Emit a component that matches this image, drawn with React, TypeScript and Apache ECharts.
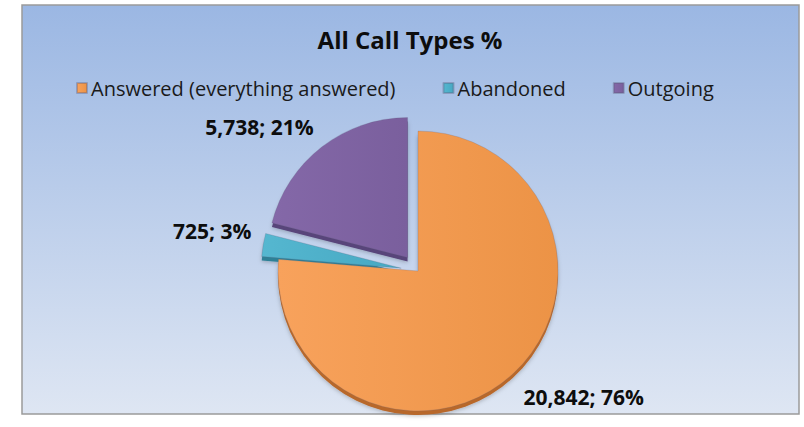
import React, { useEffect, useRef } from "react";
import * as echarts from "echarts";

const categories = ["Answered (everything answered)", "Abandoned", "Outgoing"];
const values = [20842, 725, 5738];
const exploded = [false, true, true];
const titleText = "All Call Types %";

const topColors = [
  ["#F8A25C", "#EC9346"],
  ["#55B7D0", "#46A8C2"],
  ["#8468A8", "#7A5F9D"],
];
const sideColors = ["#B8682C", "#2F8096", "#58457A"];
// label nudges [dx, dy] per slice
const labelNudges = [
  [-5, 16],
  [7, -12],
  [7, -12],
];

const FONT = "'Open Sans', Lato, sans-serif";

function fmt(n: number) {
  return n.toLocaleString("en-US");
}

export default function App() {
  const ref = useRef<HTMLDivElement>(null);
  useEffect(() => {
    if (!ref.current) return;
    const chart = echarts.init(ref.current, undefined, { renderer: "svg" });
    const total = values.reduce((a, b) => a + b, 0);
    const topData = categories.map((name, i) => ({
      name,
      value: values[i],
      selected: exploded[i],
      itemStyle: {
        color: new echarts.graphic.LinearGradient(0, 0, 1, 0, [
          { offset: 0, color: topColors[i][0] },
          { offset: 1, color: topColors[i][1] },
        ]),
      },
    }));
    const sideData = categories.map((name, i) => ({
      name,
      value: values[i],
      selected: exploded[i],
      itemStyle: { color: sideColors[i] },
    }));
    const center = [418, 271];
    chart.setOption({
      animation: false,
      graphic: [
        {
          type: "rect",
          z: -10,
          silent: true,
          shape: { x: 22, y: 5, width: 777, height: 409 },
          style: {
            fill: new echarts.graphic.LinearGradient(0, 0, 0, 1, [
              { offset: 0, color: "#9BB7E3" },
              { offset: 1, color: "#DEE6F3" },
            ]),
            stroke: "#9A9A9A",
            lineWidth: 1.5,
          },
        },
      ],
      title: {
        text: titleText,
        left: 410,
        textAlign: "center",
        top: 27,
        padding: 0,
        textStyle: { fontFamily: FONT, fontSize: 24, fontWeight: "bold", color: "#0D0D0D" },
      },
      legend: {
        left: 76,
        top: 78,
        padding: 0,
        icon: "rect",
        itemWidth: 10,
        itemHeight: 10,
        itemGap: 47,
        selectedMode: false,
        data: categories,
        textStyle: { fontFamily: FONT, fontSize: 20, color: "#1A1A1A", padding: [0, 0, 0, -1] },
      },
      series: [
        {
          type: "pie",
          name: "top",
          z: 3,
          center,
          radius: 140,
          startAngle: 90,
          clockwise: true,
          selectedMode: "multiple",
          selectedOffset: 17,
          avoidLabelOverlap: false,
          emphasis: { disabled: true },
          itemStyle: { borderColor: "rgba(90,90,120,0.35)", borderWidth: 0.6 },
          label: {
            show: true,
            position: "outside",
            formatter: (p: any) => `${fmt(p.value)}; ${Math.round((p.value / total) * 100)}%`,
            fontFamily: FONT,
            fontSize: 21,
            fontWeight: "bold",
            color: "#0D0D0D",
          },
          labelLine: { show: false, length: 10, length2: 4 },
          labelLayout: (params: any) => ({
            dx: labelNudges[params.dataIndex][0],
            dy: labelNudges[params.dataIndex][1],
          }),
          data: topData,
        },
        {
          type: "pie",
          name: "side",
          z: 2,
          silent: true,
          center: [center[0], center[1] + 4],
          radius: 140,
          startAngle: 90,
          clockwise: true,
          selectedMode: "multiple",
          selectedOffset: 17,
          emphasis: { disabled: true },
          label: { show: false },
          labelLine: { show: false },
          itemStyle: { shadowBlur: 4, shadowColor: "rgba(0,0,0,0.25)", shadowOffsetY: 1 },
          data: sideData,
        },
      ],
    });
    return () => chart.dispose();
  }, []);
  return (
    <div
      ref={ref}
      style={{ position: "absolute", left: 0, top: 0, width: 804, height: 427 }}
    />
  );
}
